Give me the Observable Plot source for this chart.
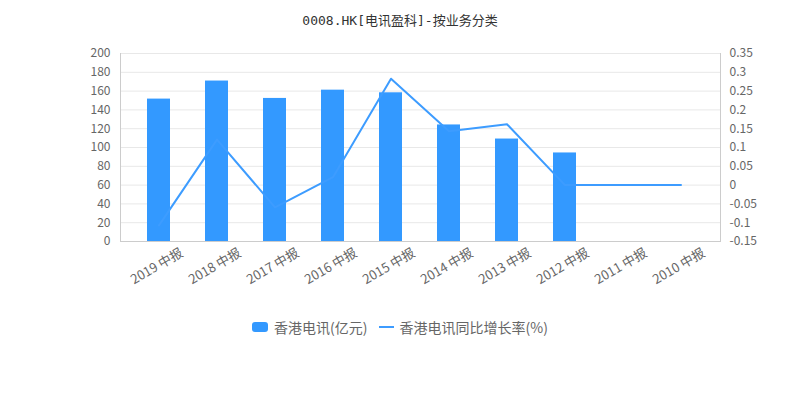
<!DOCTYPE html>
<html>
<head>
<meta charset="utf-8">
<script src="https://cdn.jsdelivr.net/npm/d3@7"></script>
<script src="https://cdn.jsdelivr.net/npm/@observablehq/plot@0.6"></script>
<style>
  body { margin: 0; background: #fff; font-family: "Noto Sans CJK SC", sans-serif; }
  #wrap { width: 800px; height: 400px; }
  #title { height: 41px; line-height: 41px; text-align: center; font-size: 13px; color: #333;
           font-family: "DejaVu Sans Mono", "Noto Sans CJK SC", monospace; }
  #chart svg { display: block; }
  #legend { margin-top: 17px; height: 18px; line-height: 18px; display: flex; justify-content: center;
            align-items: center; font-size: 14px; color: #666; }
  .sw-bar { width: 16px; height: 10px; border-radius: 3px; background: #3399ff; margin-right: 6px; }
  .sw-line { width: 15px; height: 2px; background: #3d9cff; margin-right: 6px; margin-left: 11px; }
</style>
</head>
<body>
<div id="wrap">
  <div id="title">0008.HK[电讯盈科]-按业务分类</div>
  <div id="chart"></div>
  <div id="legend"></div>
</div>
<script>
const categories = ["2019 中报", "2018 中报", "2017 中报", "2016 中报", "2015 中报", "2014 中报", "2013 中报", "2012 中报", "2011 中报", "2010 中报"];
const revenue = [151.5, 170.7, 152.2, 161.0, 158.2, 124.0, 109.0, 94.2, null, null];
const growth = [-0.107, 0.121, -0.059, 0.021, 0.283, 0.143, 0.162, 0, 0, 0];
const leftTicks = [0, 20, 40, 60, 80, 100, 120, 140, 160, 180, 200];
const rightTicks = [-0.15, -0.1, -0.05, 0, 0.05, 0.1, 0.15, 0.2, 0.25, 0.3, 0.35];
const seriesNames = ["香港电讯(亿元)", "香港电讯同比增长率(%)"];

const barColor = "#3399ff";
const lineColor = "#3d9cff";

const leftMin = leftTicks[0], leftMax = leftTicks[leftTicks.length - 1];
const rightMin = rightTicks[0], rightMax = rightTicks[rightTicks.length - 1];
const toLeft = g => leftMin + (g - rightMin) / (rightMax - rightMin) * (leftMax - leftMin);
const fromLeft = v => rightMin + (v - leftMin) / (leftMax - leftMin) * (rightMax - rightMin);
const fmt = v => String(+v.toFixed(2));

const rows = categories.map((c, i) => ({cat: c, revenue: revenue[i], growth: growth[i]}));

const chart = Plot.plot({
  width: 800,
  height: 260,
  marginTop: 12,
  marginBottom: 60,
  marginLeft: 120,
  marginRight: 80,
  style: {fontFamily: "Noto Sans CJK SC, sans-serif", fontSize: "12px", background: "#fff"},
  x: {domain: categories, paddingInner: 0.6, paddingOuter: 0.3, insetLeft: 6, insetRight: 6, axis: null},
  y: {domain: [leftMin, leftMax], axis: null},
  marks: [
    Plot.ruleY(leftTicks, {stroke: "#e8e8e8", strokeWidth: 1}),
    Plot.barY(rows.filter(d => d.revenue != null), {x: "cat", y: "revenue", fill: barColor}),
    Plot.lineY(rows, {x: "cat", y: d => toLeft(d.growth), stroke: lineColor, strokeWidth: 2}),
    Plot.ruleY([leftMin], {stroke: "#cccccc", strokeWidth: 1}),
    Plot.frame({anchor: "left", stroke: "#cccccc"}),
    Plot.frame({anchor: "right", stroke: "#cccccc"}),
    Plot.axisY({ticks: leftTicks, anchor: "left", tickSize: 0, tickPadding: 10, fill: "#666", fontSize: 12, label: null}),
    Plot.axisY({ticks: leftTicks, anchor: "right", tickSize: 0, tickPadding: 9, fill: "#666", fontSize: 12, label: null,
                tickFormat: d => fmt(fromLeft(d))}),
    Plot.text(categories, {x: d => d, frameAnchor: "bottom", rotate: -30, textAnchor: "end",
                           dx: 25, dy: 14, fill: "#666", fontSize: 13})
  ]
});
document.getElementById("chart").appendChild(chart);

const legend = document.getElementById("legend");
legend.innerHTML = `<div class="sw-bar"></div><span>${seriesNames[0]}</span><div class="sw-line"></div><span>${seriesNames[1]}</span>`;
</script>
</body>
</html>
